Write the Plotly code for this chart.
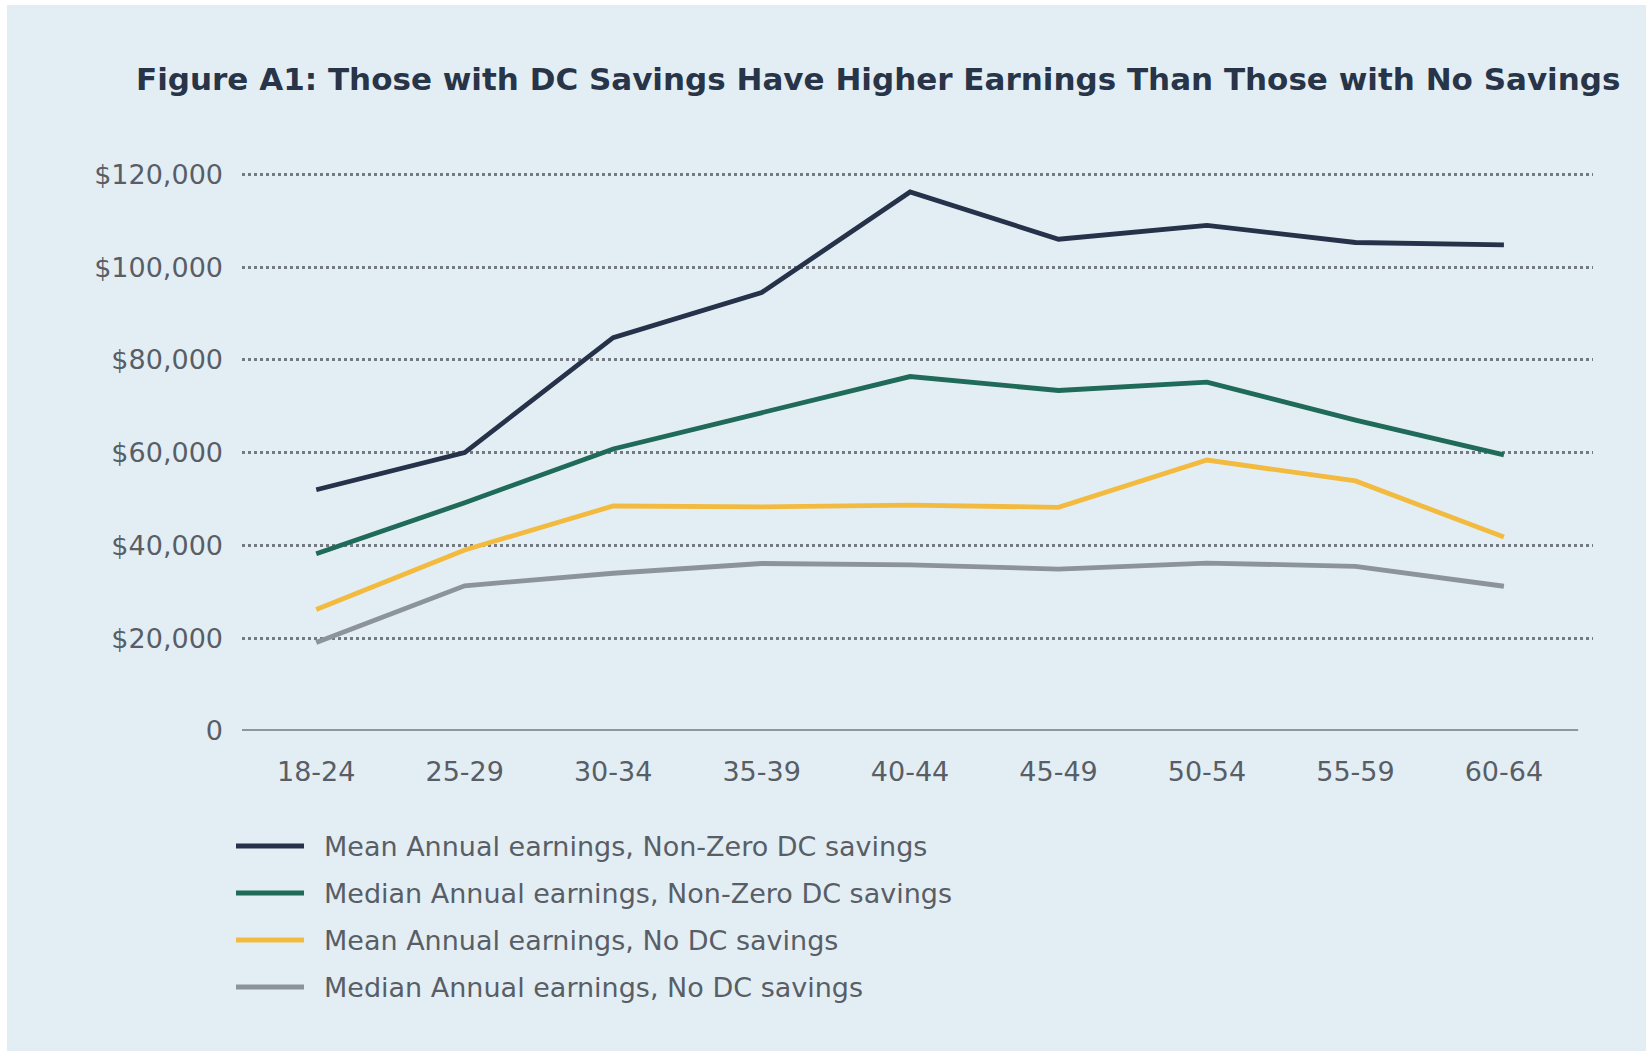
import plotly.graph_objects as go

# Age bands on the x-axis
age_groups = ["18-24", "25-29", "30-34", "35-39", "40-44",
              "45-49", "50-54", "55-59", "60-64"]

# Annual earnings (USD) by age band
mean_nonzero_dc = [52000, 60000, 84800, 94500, 116200, 106000, 109000, 105300, 104800]
median_nonzero_dc = [38200, 49200, 60800, 68700, 76400, 73400, 75200, 67000, 59500]
mean_no_dc = [26200, 39000, 48500, 48300, 48700, 48200, 58400, 53900, 41800]
median_no_dc = [19100, 31300, 34000, 36100, 35800, 34900, 36200, 35500, 31200]

series_names = [
    "Mean Annual earnings, Non-Zero DC savings",
    "Median Annual earnings, Non-Zero DC savings",
    "Mean Annual earnings, No DC savings",
    "Median Annual earnings, No DC savings",
]
series_values = [mean_nonzero_dc, median_nonzero_dc, mean_no_dc, median_no_dc]
series_colors = ["#263249", "#1f6a58", "#f2bb40", "#8d939a"]

# Y-axis ticks
y_tickvals = [0, 20000, 40000, 60000, 80000, 100000, 120000]
y_ticktext = ["0", "$20,000", "$40,000", "$60,000", "$80,000", "$100,000", "$120,000"]

title_text = "<b>Figure A1: Those with DC Savings Have Higher Earnings Than Those with No Savings</b>"

W, H = 1646, 1051
L, R, T, B = 242, 53, 165, 320
plot_w = W - L - R
plot_h = H - T - B

BG = "#e3eef4"
TEXT = "#595e66"
FONT = "DejaVu Sans"


def px_to_paper_x(px):
    return (px - L) / plot_w


def px_to_paper_y(py):
    return (H - B - py) / plot_h


fig = go.Figure()

for name, vals, color in zip(series_names, series_values, series_colors):
    fig.add_trace(go.Scatter(
        x=age_groups, y=vals, name=name, mode="lines",
        line=dict(color=color, width=4.8),
        showlegend=False, cliponaxis=False,
    ))

shapes = []
# light-blue card behind the figure, leaving a thin white edge top/left
shapes.append(dict(
    type="rect", xref="paper", yref="paper", layer="below",
    x0=px_to_paper_x(7), x1=px_to_paper_x(W + 5),
    y0=px_to_paper_y(H + 5), y1=px_to_paper_y(5),
    fillcolor=BG, line=dict(width=0),
))
# solid baseline at zero spanning the category range
shapes.append(dict(
    type="line", xref="x", yref="y", layer="below",
    x0=-0.5, x1=len(age_groups) - 0.5, y0=0, y1=0,
    line=dict(color="#8f969c", width=4),
))

# custom legend with long line samples
annotations = []
legend_top = 846
legend_step = 47
for i, (name, color) in enumerate(zip(series_names, series_colors)):
    yy = px_to_paper_y(legend_top + i * legend_step)
    shapes.append(dict(
        type="line", xref="paper", yref="paper",
        x0=px_to_paper_x(236), x1=px_to_paper_x(304), y0=yy, y1=yy,
        line=dict(color=color, width=5),
    ))
    annotations.append(dict(
        xref="paper", yref="paper", x=px_to_paper_x(322), y=yy,
        xanchor="left", yanchor="middle", showarrow=False,
        text=name, font=dict(family=FONT, size=27, color=TEXT),
    ))

fig.update_layout(
    width=W, height=H,
    margin=dict(l=L, r=R, t=T, b=B),
    paper_bgcolor="white",
    plot_bgcolor="rgba(0,0,0,0)",
    title=dict(
        text=title_text, x=136 / W, xanchor="left",
        y=1 - 79 / H, yanchor="middle",
        font=dict(family=FONT, size=31, color="#283447"),
    ),
    shapes=shapes,
    annotations=annotations,
    xaxis=dict(
        type="category", range=[-0.5, len(age_groups) - 0.4],
        showgrid=False, showline=False, zeroline=False, ticks="",
        tickfont=dict(family=FONT, size=27, color=TEXT),
        ticklabelstandoff=22,
    ),
    yaxis=dict(
        range=[0, 122000], tickvals=y_tickvals, ticktext=y_ticktext,
        showgrid=True, gridcolor="#737a81", gridwidth=2.5, griddash="3px,3px",
        zeroline=False, showline=False, ticks="",
        tickfont=dict(family=FONT, size=27, color=TEXT),
        ticklabelstandoff=18,
    ),
)

fig.write_html("out.html")
